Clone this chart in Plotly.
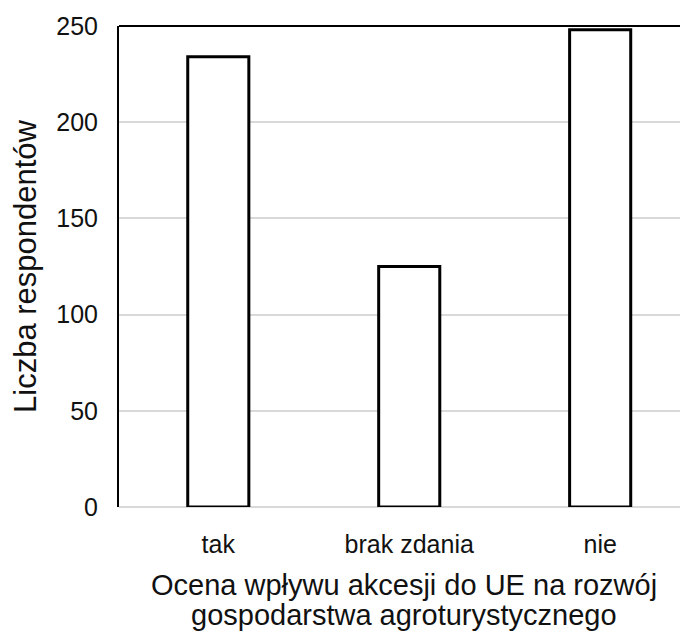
import plotly.graph_objects as go

categories = ["tak", "brak zdania", "nie"]
values = [234, 125, 248]
y_ticks = [0, 50, 100, 150, 200, 250]
x_title_lines = ["Ocena wpływu akcesji do UE na rozwój", "gospodarstwa agroturystycznego"]
y_title = "Liczba respondentów"

font = "Liberation Sans, Arial, sans-serif"

fig = go.Figure()
fig.add_trace(go.Bar(
    x=categories, y=values,
    marker=dict(color="white", line=dict(color="black", width=3)),
    width=0.32,
))

annotations = []
for i, line in enumerate(x_title_lines):
    annotations.append(dict(text=line, xref="paper", yref="paper", x=0.5, y=0,
                            xanchor="center", yanchor="middle", yshift=-78 - 30 * i,
                            showarrow=False, font=dict(size=29)))

fig.update_layout(
    width=680, height=623,
    margin=dict(l=111, r=0, t=18, b=124, autoexpand=False),
    paper_bgcolor="white", plot_bgcolor="white",
    showlegend=False,
    font=dict(family=font, color="#111111"),
    xaxis=dict(
        range=[-0.52, 2.46],
        showgrid=False, zeroline=False, showline=False,
        ticks="", tickfont=dict(size=25), ticklabelstandoff=20,
    ),
    yaxis=dict(
        range=[0, 250], tickvals=y_ticks,
        showgrid=True, gridcolor="#d9d9d9", gridwidth=1.5,
        zeroline=True, zerolinecolor="#d9d9d9", zerolinewidth=1.5,
        showline=True, linecolor="black", linewidth=2,
        ticks="", ticklen=0, tickfont=dict(size=25), ticklabelstandoff=14,
        title=dict(text=y_title, font=dict(size=31), standoff=12),
    ),
    shapes=[dict(type="line", xref="paper", yref="paper", x0=0, x1=1, y0=1, y1=1,
                 line=dict(color="black", width=2))],
    annotations=annotations,
)

fig.write_html("out.html")
